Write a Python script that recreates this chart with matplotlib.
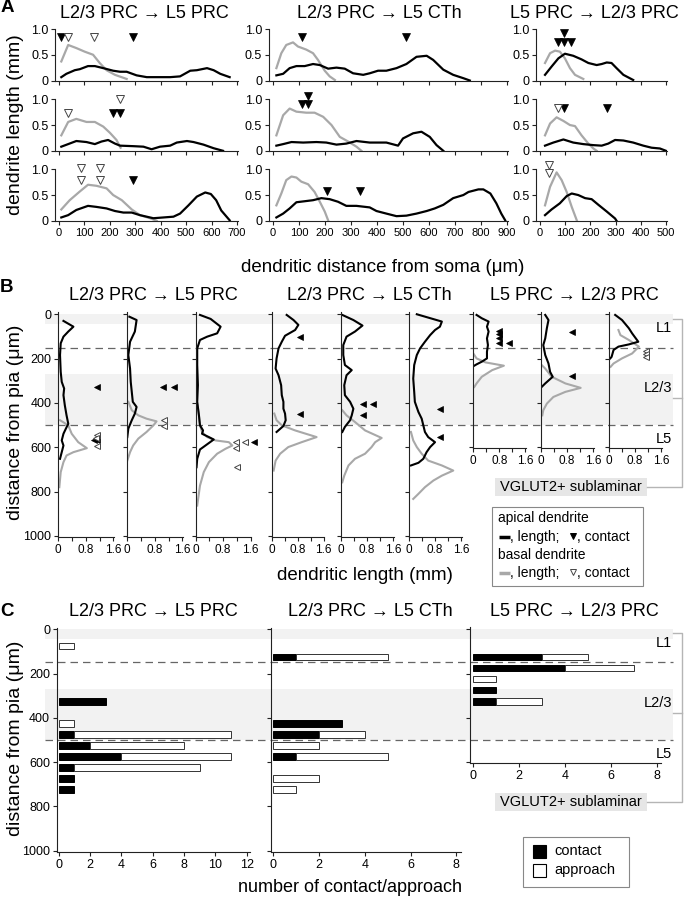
import numpy as np
import matplotlib
matplotlib.use("Agg")
import matplotlib.pyplot as plt
from matplotlib import transforms
from matplotlib.patches import Rectangle
from matplotlib.lines import Line2D

# ---------------------------------------------------------------------------
# Panel A: dendrite length (mm) vs dendritic distance from soma (um)
# PP = L2/3 PRC -> L5 PRC, PC = L2/3 PRC -> L5 CTh, LP = L5 PRC -> L2/3 PRC
# api = apical (black), bas = basal (gray), *_c = contact sites (distance, height)
# ---------------------------------------------------------------------------
A_PP1_api_x = [9, 29, 62, 82, 114, 141, 174, 213, 240, 266, 305, 345, 384, 437, 476, 516, 542, 582, 608, 634, 671]
A_PP1_api_y = [0.065, 0.13, 0.2, 0.22, 0.28, 0.28, 0.24, 0.19, 0.17, 0.17, 0.1, 0.065, 0.065, 0.065, 0.08, 0.19, 0.2, 0.24, 0.2, 0.13, 0.065]
A_PP1_bas_x = [9, 36, 68, 101, 134, 160, 187, 220, 266]
A_PP1_bas_y = [0.37, 0.69, 0.63, 0.56, 0.5, 0.34, 0.2, 0.11, 0.03]
A_PP1_api_c = [(9, 0.85), (292, 0.85)]
A_PP1_bas_c = [(36, 0.85), (138, 0.85)]

A_PP2_api_x = [9, 36, 68, 108, 141, 167, 193, 220, 240, 292, 332, 364, 397, 437, 463, 503, 529, 568, 608, 645]
A_PP2_api_y = [0.08, 0.13, 0.19, 0.17, 0.13, 0.18, 0.21, 0.14, 0.1, 0.09, 0.08, 0.03, 0.08, 0.1, 0.16, 0.19, 0.17, 0.12, 0.05, 0.0]
A_PP2_bas_x = [9, 36, 68, 108, 141, 174, 200, 226, 242]
A_PP2_bas_y = [0.3, 0.56, 0.62, 0.56, 0.56, 0.47, 0.35, 0.21, 0.06]
A_PP2_api_c = [(213, 0.73), (240, 0.73)]
A_PP2_bas_c = [(36, 0.73), (240, 1.0)]

A_PP3_api_x = [9, 36, 68, 114, 147, 187, 220, 253, 286, 318, 371, 411, 450, 476, 509, 542, 575, 597, 618, 638, 671]
A_PP3_api_y = [0.065, 0.11, 0.21, 0.29, 0.27, 0.24, 0.19, 0.16, 0.16, 0.11, 0.05, 0.065, 0.08, 0.14, 0.3, 0.47, 0.55, 0.52, 0.4, 0.2, 0.01]
A_PP3_bas_x = [9, 42, 82, 114, 147, 187, 213, 247, 286, 318, 358, 384]
A_PP3_bas_y = [0.22, 0.4, 0.57, 0.7, 0.68, 0.63, 0.5, 0.4, 0.22, 0.11, 0.05, 0.0]
A_PP3_api_c = [(292, 0.79)]
A_PP3_bas_c = [(88, 1.02), (88, 0.79), (160, 1.02), (160, 0.79)]

A_PC1_api_x = [13, 39, 64, 90, 122, 154, 180, 212, 244, 276, 308, 347, 372, 404, 436, 475, 513, 552, 591, 616, 655, 693, 732, 757]
A_PC1_api_y = [0.1, 0.13, 0.24, 0.28, 0.28, 0.32, 0.3, 0.23, 0.25, 0.23, 0.14, 0.11, 0.14, 0.19, 0.19, 0.24, 0.32, 0.46, 0.48, 0.4, 0.21, 0.11, 0.045, 0.0]
A_PC1_bas_x = [13, 32, 51, 77, 96, 128, 154, 173, 199, 218, 238]
A_PC1_bas_y = [0.24, 0.53, 0.69, 0.74, 0.66, 0.6, 0.53, 0.4, 0.19, 0.08, 0.01]
A_PC1_api_c = [(113, 0.85), (510, 0.85)]
A_PC1_bas_c = []

A_PC2_api_x = [13, 39, 71, 116, 167, 205, 244, 282, 321, 372, 436, 481, 500, 539, 571, 603, 629, 655]
A_PC2_api_y = [0.1, 0.13, 0.17, 0.16, 0.17, 0.16, 0.12, 0.14, 0.19, 0.16, 0.16, 0.1, 0.24, 0.34, 0.37, 0.27, 0.11, 0.0]
A_PC2_bas_x = [13, 39, 64, 90, 128, 160, 193, 225, 257, 289, 321, 340]
A_PC2_bas_y = [0.3, 0.69, 0.82, 0.76, 0.74, 0.74, 0.66, 0.5, 0.27, 0.18, 0.08, 0.0]
A_PC2_api_c = [(113, 0.9), (136, 0.9), (136, 1.07)]
A_PC2_bas_c = []

A_PC3_api_x = [13, 39, 64, 90, 122, 154, 186, 218, 250, 282, 321, 372, 398, 436, 475, 513, 552, 591, 622, 655, 693, 732, 752, 790, 809, 836, 859, 878, 893]
A_PC3_api_y = [0.065, 0.14, 0.24, 0.36, 0.38, 0.4, 0.44, 0.42, 0.37, 0.29, 0.29, 0.26, 0.19, 0.14, 0.09, 0.1, 0.14, 0.19, 0.24, 0.31, 0.44, 0.5, 0.56, 0.61, 0.61, 0.53, 0.34, 0.14, 0.01]
A_PC3_bas_x = [13, 32, 51, 71, 90, 109, 135, 160, 180, 199, 212]
A_PC3_bas_y = [0.3, 0.53, 0.79, 0.86, 0.84, 0.76, 0.71, 0.56, 0.37, 0.18, 0.01]
A_PC3_api_c = [(209, 0.58), (334, 0.58)]
A_PC3_bas_c = []

A_LP1_api_x = [20, 46, 73, 99, 132, 165, 192, 225, 245, 265, 284, 304, 331, 370]
A_LP1_api_y = [0.11, 0.27, 0.43, 0.52, 0.48, 0.41, 0.34, 0.3, 0.32, 0.35, 0.34, 0.24, 0.11, 0.01]
A_LP1_bas_x = [20, 40, 60, 79, 99, 119, 139, 172]
A_LP1_bas_y = [0.34, 0.53, 0.58, 0.56, 0.43, 0.24, 0.11, 0.03]
A_LP1_api_c = [(70, 0.74), (97, 0.74), (123, 0.74), (97, 0.92)]
A_LP1_bas_c = []

A_LP2_api_x = [20, 53, 93, 132, 172, 212, 245, 271, 298, 331, 370, 410, 443, 476, 500]
A_LP2_api_y = [0.1, 0.16, 0.22, 0.16, 0.13, 0.11, 0.1, 0.14, 0.21, 0.2, 0.16, 0.1, 0.06, 0.045, 0.0]
A_LP2_bas_x = [20, 40, 66, 93, 119, 139, 165, 192, 212, 225]
A_LP2_bas_y = [0.3, 0.53, 0.65, 0.58, 0.5, 0.48, 0.3, 0.14, 0.045, 0.0]
A_LP2_api_c = [(97, 0.84), (268, 0.84)]
A_LP2_bas_c = [(70, 0.84)]

A_LP3_api_x = [20, 46, 79, 106, 126, 152, 179, 205, 232, 265, 298, 304]
A_LP3_api_y = [0.11, 0.22, 0.34, 0.48, 0.53, 0.5, 0.44, 0.42, 0.31, 0.18, 0.045, 0.0]
A_LP3_bas_x = [20, 40, 66, 86, 106, 126, 146]
A_LP3_bas_y = [0.3, 0.66, 0.94, 0.79, 0.56, 0.27, 0.01]
A_LP3_api_c = []
A_LP3_bas_c = [(37, 1.08), (37, 0.92)]

# ---------------------------------------------------------------------------
# Panel B: dendritic length (mm) vs distance from pia (um), same nine cells
# *_d = depth (um), *_l = length (mm), *_c = contact sites (length, depth)
# ---------------------------------------------------------------------------
B_PP1_api_d = [30, 56, 78, 101, 131, 184, 260, 305, 335, 365, 411, 456, 494, 516, 539, 569, 592, 622, 652]
B_PP1_api_l = [0.15, 0.44, 0.29, 0.15, 0.07, 0.05, 0.07, 0.1, 0.17, 0.15, 0.19, 0.24, 0.29, 0.22, 0.15, 0.1, 0.15, 0.1, 0.05]
B_PP1_bas_d = [478, 501, 539, 577, 604, 622, 637, 667, 712, 780]
B_PP1_bas_l = [0.05, 0.29, 0.39, 0.58, 0.83, 0.44, 0.24, 0.15, 0.07, 0.03]
B_PP1_api_c = [(1.12, 328), (1.05, 569), (1.14, 569)]
B_PP1_bas_c = [(1.14, 544), (1.10, 556), (1.14, 594)]

B_PP2_api_d = [11, 26, 78, 124, 184, 245, 305, 350, 395, 418, 448, 478, 516, 554]
B_PP2_api_l = [0.06, 0.27, 0.22, 0.08, 0.03, 0.08, 0.1, 0.13, 0.16, 0.27, 0.22, 0.13, 0.03, 0.0]
B_PP2_bas_d = [395, 433, 456, 471, 483, 501, 531, 561, 592, 622, 660]
B_PP2_bas_l = [0.03, 0.13, 0.32, 0.56, 0.85, 0.76, 0.56, 0.32, 0.17, 0.08, 0.0]
B_PP2_api_c = [(1.05, 328), (1.36, 328)]
B_PP2_bas_c = [(1.07, 478), (1.07, 504)]

B_PP3_api_d = [3, 21, 56, 86, 101, 116, 154, 229, 320, 395, 456, 501, 524, 539, 554, 565, 592, 610, 652, 690]
B_PP3_api_l = [0.13, 0.44, 0.73, 0.63, 0.34, 0.13, 0.05, 0.05, 0.07, 0.05, 0.1, 0.13, 0.22, 0.19, 0.39, 0.53, 0.29, 0.13, 0.05, 0.03]
B_PP3_bas_d = [403, 456, 501, 531, 554, 569, 577, 592, 607, 629, 667, 712, 773, 863]
B_PP3_bas_l = [0.05, 0.1, 0.13, 0.19, 0.34, 0.58, 0.97, 1.07, 0.87, 0.63, 0.39, 0.24, 0.13, 0.05]
B_PP3_api_c = [(1.70, 577)]
B_PP3_bas_c = [(1.18, 577), (1.45, 577), (1.18, 604), (1.20, 687)]

B_PC1_api_d = [3, 26, 48, 71, 97, 124, 154, 199, 245, 275, 320, 365, 395, 426, 448, 478, 504, 531]
B_PC1_api_l = [0.46, 0.67, 0.82, 0.72, 0.41, 0.31, 0.21, 0.15, 0.12, 0.21, 0.29, 0.31, 0.36, 0.36, 0.41, 0.43, 0.36, 0.15]
B_PC1_bas_d = [448, 478, 501, 524, 554, 577, 599, 629, 660, 705]
B_PC1_bas_l = [0.08, 0.15, 0.31, 0.72, 1.38, 0.92, 0.51, 0.26, 0.12, 0.06]
B_PC1_api_c = [(0.87, 104), (0.87, 451)]
B_PC1_bas_c = []

B_PC2_api_d = [3, 26, 51, 78, 101, 139, 184, 229, 252, 275, 320, 365, 395, 426, 456, 478, 508, 531]
B_PC2_api_l = [0.04, 0.38, 0.66, 0.43, 0.17, 0.07, 0.07, 0.12, 0.33, 0.17, 0.1, 0.12, 0.28, 0.38, 0.33, 0.28, 0.12, 0.04]
B_PC2_bas_d = [433, 456, 486, 524, 558, 577, 599, 629, 652, 682, 728, 758]
B_PC2_bas_l = [0.04, 0.17, 0.43, 0.74, 1.25, 1.05, 0.94, 0.74, 0.43, 0.23, 0.1, 0.04]
B_PC2_api_c = [(0.69, 406), (0.97, 406), (0.69, 456)]
B_PC2_bas_c = []

B_PC3_api_d = [0, 15, 33, 56, 71, 94, 124, 154, 184, 229, 290, 350, 395, 441, 471, 501, 531, 554, 577, 599, 622, 652, 670, 682]
B_PC3_api_l = [0.24, 0.59, 1.01, 0.95, 0.8, 0.65, 0.49, 0.34, 0.24, 0.16, 0.13, 0.16, 0.18, 0.29, 0.39, 0.44, 0.49, 0.59, 0.8, 0.65, 0.54, 0.44, 0.29, 0.06]
B_PC3_bas_d = [531, 569, 599, 629, 660, 682, 705, 728, 750, 780, 810, 833]
B_PC3_bas_l = [0.06, 0.13, 0.24, 0.39, 0.59, 1.01, 1.36, 1.01, 0.75, 0.49, 0.29, 0.13]
B_PC3_api_c = [(0.95, 429), (0.95, 554)]
B_PC3_bas_c = []

B_LP1_api_d = [3, 18, 33, 56, 78, 109, 139, 169, 199, 214, 226, 232]
B_LP1_api_l = [0.1, 0.26, 0.47, 0.42, 0.47, 0.42, 0.45, 0.42, 0.42, 0.26, 0.1, 0.03]
B_LP1_bas_d = [177, 199, 217, 232, 252, 282, 312, 328]
B_LP1_bas_l = [0.0, 0.1, 0.37, 0.94, 0.58, 0.26, 0.1, 0.03]
B_LP1_api_c = [(0.78, 75), (0.78, 91), (0.78, 109), (0.78, 128), (1.1, 128)]
B_LP1_bas_c = []

B_LP2_api_d = [3, 26, 63, 109, 139, 184, 222, 260, 282, 312, 328]
B_LP2_api_l = [0.13, 0.23, 0.18, 0.13, 0.07, 0.13, 0.23, 0.28, 0.36, 0.13, 0.02]
B_LP2_bas_d = [229, 245, 282, 312, 332, 350, 373, 403, 433, 456]
B_LP2_bas_l = [0.02, 0.13, 0.33, 0.75, 1.22, 0.75, 0.38, 0.18, 0.07, 0.04]
B_LP2_api_c = [(0.94, 78), (0.94, 279)]
B_LP2_bas_c = []

B_LP3_api_d = [3, 26, 63, 86, 124, 136, 146, 161, 192, 199]
B_LP3_api_l = [0.19, 0.4, 0.61, 0.71, 0.9, 0.61, 0.29, 0.14, 0.08, 0.04]
B_LP3_bas_d = [71, 94, 116, 146, 177, 199, 222, 237]
B_LP3_bas_l = [0.29, 0.35, 0.61, 0.92, 0.71, 0.4, 0.14, 0.05]
B_LP3_api_c = []
B_LP3_bas_c = [(1.13, 165), (1.13, 180), (1.13, 195)]

# ---------------------------------------------------------------------------
# Panel C: number of contacts / approaches per 50-um depth bin
# ---------------------------------------------------------------------------
C_PP_depth = [75, 325, 425, 475, 525, 575, 625, 675, 725]
C_PP_contact = [0, 3, 0, 1, 2, 4, 1, 1, 1]
C_PP_approach = [1, 0, 1, 10, 6, 7, 8, 0, 0]

C_PC_depth = [125, 425, 475, 525, 575, 675, 725]
C_PC_contact = [1, 3, 2, 0, 1, 0, 0]
C_PC_approach = [4, 0, 2, 2, 4, 2, 1]

C_LP_depth = [125, 175, 225, 275, 325]
C_LP_contact = [3, 4, 0, 1, 1]
C_LP_approach = [2, 3, 1, 0, 2]

# cortical layout (um from pia)
SHADED_UM = [(0, 42), (270, 500)]
BOUNDARY_UM = [150, 500]
LAYER_LABELS = ["L1", "L2/3", "L5"]
LAYER_LABEL_UM = [63, 334, 562]

TITLES = ["L2/3 PRC \u2192 L5 PRC", "L2/3 PRC \u2192 L5 CTh", "L5 PRC \u2192 L2/3 PRC"]

# ---------------------------------------------------------------------------
W, H = 685, 899
plt.rcParams["font.family"] = ["Liberation Sans", "DejaVu Sans"]
fig = plt.figure(figsize=(W / 100, H / 100), dpi=100)
PX = transforms.Affine2D().scale(1 / W, -1 / H).translate(0, 1) + fig.transFigure
GRAY = "#a8a8a8"
BAND = "#f2f2f2"
DASH = "#666666"
INK = "#222222"


def px_rect(l, t, w, h):
    return [l / W, 1 - (t + h) / H, w / W, h / H]


def style(ax):
    for s in ("top", "right"):
        ax.spines[s].set_visible(False)
    for s in ("left", "bottom"):
        ax.spines[s].set_linewidth(0.8)
        ax.spines[s].set_color(INK)
    ax.set_facecolor("none")
    ax.tick_params(which="both", direction="out", length=3, width=0.8, color=INK, pad=2, labelsize=9)


def marks(ax, pts, marker, filled, size):
    if not pts:
        return
    xs, ys = zip(*pts)
    if filled:
        ax.plot(xs, ys, ls="none", marker=marker, ms=size, mfc="black", mec="black", mew=0.5, clip_on=False, zorder=5)
    else:
        ax.plot(xs, ys, ls="none", marker=marker, ms=size, mfc="white", mec="#444444", mew=0.7, clip_on=False, zorder=5)


def layer_guides(ax_ref):
    tr = transforms.blended_transform_factory(fig.transFigure, ax_ref.transData)
    x0, x1 = 45 / W, 673 / W
    for d0, d1 in SHADED_UM:
        fig.add_artist(Rectangle((x0, d0), x1 - x0, d1 - d0, transform=tr,
                                 facecolor=BAND, edgecolor="none", zorder=-3))
    for d in BOUNDARY_UM:
        fig.add_artist(Line2D([x0, x1], [d, d], transform=tr, color=DASH, lw=0.9,
                              ls=(0, (6, 4)), zorder=-2))
    for lab, d in zip(LAYER_LABELS, LAYER_LABEL_UM):
        fig.text(672 / W, d, lab, transform=tr, ha="right", va="center", fontsize=10.5)


# ---------------- panel A ----------------
a_cells = [
    [(A_PP1_api_x, A_PP1_api_y, A_PP1_bas_x, A_PP1_bas_y, A_PP1_api_c, A_PP1_bas_c),
     (A_PP2_api_x, A_PP2_api_y, A_PP2_bas_x, A_PP2_bas_y, A_PP2_api_c, A_PP2_bas_c),
     (A_PP3_api_x, A_PP3_api_y, A_PP3_bas_x, A_PP3_bas_y, A_PP3_api_c, A_PP3_bas_c)],
    [(A_PC1_api_x, A_PC1_api_y, A_PC1_bas_x, A_PC1_bas_y, A_PC1_api_c, A_PC1_bas_c),
     (A_PC2_api_x, A_PC2_api_y, A_PC2_bas_x, A_PC2_bas_y, A_PC2_api_c, A_PC2_bas_c),
     (A_PC3_api_x, A_PC3_api_y, A_PC3_bas_x, A_PC3_bas_y, A_PC3_api_c, A_PC3_bas_c)],
    [(A_LP1_api_x, A_LP1_api_y, A_LP1_bas_x, A_LP1_bas_y, A_LP1_api_c, A_LP1_bas_c),
     (A_LP2_api_x, A_LP2_api_y, A_LP2_bas_x, A_LP2_bas_y, A_LP2_api_c, A_LP2_bas_c),
     (A_LP3_api_x, A_LP3_api_y, A_LP3_bas_x, A_LP3_bas_y, A_LP3_api_c, A_LP3_bas_c)],
]
a_cols = [(55.2, 183.1, (-15, 705), 700), (269.1, 239.2, (-15, 905), 900), (536.2, 131.0, (-15, 505), 500)]
a_rows = [29.0, 99.3, 169.3]
for ci, (left, width, xlim, xmax) in enumerate(a_cols):
    for ri, top in enumerate(a_rows):
        ax = fig.add_axes(px_rect(left, top, width, 51.5))
        style(ax)
        ax_, ay_, bx_, by_, ac_, bc_ = a_cells[ci][ri]
        ax.plot(bx_, by_, color=GRAY, lw=1.6, solid_joinstyle="round")
        ax.plot(ax_, ay_, color="black", lw=1.6, solid_joinstyle="round")
        marks(ax, ac_, "v", True, 5.5)
        marks(ax, bc_, "v", False, 5.5)
        ax.set_xlim(*xlim)
        ax.set_ylim(0, 1.0)
        ax.set_xticks(np.arange(0, xmax + 1, 100))
        ax.set_yticks([0, 0.5, 1.0])
        ax.set_yticklabels(["0", "0.5", "1.0"])
        if ri < 2:
            ax.set_xticklabels([])
        else:
            ax.tick_params(axis="x", labelsize=8)

# ---------------- panel B ----------------
b_cells = [
    (B_PP1_api_d, B_PP1_api_l, B_PP1_bas_d, B_PP1_bas_l, B_PP1_api_c, B_PP1_bas_c),
    (B_PP2_api_d, B_PP2_api_l, B_PP2_bas_d, B_PP2_bas_l, B_PP2_api_c, B_PP2_bas_c),
    (B_PP3_api_d, B_PP3_api_l, B_PP3_bas_d, B_PP3_bas_l, B_PP3_api_c, B_PP3_bas_c),
    (B_PC1_api_d, B_PC1_api_l, B_PC1_bas_d, B_PC1_bas_l, B_PC1_api_c, B_PC1_bas_c),
    (B_PC2_api_d, B_PC2_api_l, B_PC2_bas_d, B_PC2_bas_l, B_PC2_api_c, B_PC2_bas_c),
    (B_PC3_api_d, B_PC3_api_l, B_PC3_bas_d, B_PC3_bas_l, B_PC3_api_c, B_PC3_bas_c),
    (B_LP1_api_d, B_LP1_api_l, B_LP1_bas_d, B_LP1_bas_l, B_LP1_api_c, B_LP1_bas_c),
    (B_LP2_api_d, B_LP2_api_l, B_LP2_bas_d, B_LP2_bas_l, B_LP2_api_c, B_LP2_bas_c),
    (B_LP3_api_d, B_LP3_api_l, B_LP3_bas_d, B_LP3_bas_l, B_LP3_api_c, B_LP3_bas_c),
]
b_lefts = [58.3, 127.3, 195.5, 271.7, 341.0, 409.0, 473.3, 541.0, 609.0]
b_widths = [55.7] * 3 + [52.7] * 6
b_pxum, b_top, b_pad = 0.2217, 311.6, 12
b_axes = []
for i, cell in enumerate(b_cells):
    dmax = 600 if i >= 6 else 1000
    ax = fig.add_axes(px_rect(b_lefts[i], b_top, b_widths[i], (dmax + 5 + b_pad) * b_pxum))
    style(ax)
    ad, al, bd, bl, ac_, bc_ = cell
    ax.plot(bl, bd, color=GRAY, lw=1.5, solid_joinstyle="round")
    ax.plot(al, ad, color="black", lw=1.5, solid_joinstyle="round")
    marks(ax, ac_, "<", True, 5)
    marks(ax, bc_, "<", False, 5)
    ax.set_xlim(0, 1.62)
    ax.set_ylim(dmax + 5, -b_pad)
    ax.set_xticks([0, 0.8, 1.6])
    ax.set_xticklabels(["0", "0.8", "1.6"])
    ax.set_xticks([0.4, 1.2], minor=True)
    ax.tick_params(axis="x", labelsize=8.5)
    ax.set_yticks(np.arange(0, dmax + 1, 200))
    if i > 0:
        ax.set_yticklabels([])
    b_axes.append(ax)
layer_guides(b_axes[0])

# ---------------- panel C ----------------
c_sets = [(C_PP_depth, C_PP_contact, C_PP_approach),
          (C_PC_depth, C_PC_contact, C_PC_approach),
          (C_LP_depth, C_LP_contact, C_LP_approach)]
c_cols = [(57.1, 192.7, (-0.1, 12.2), 12, 1000),
          (271.0, 190.0, (-0.1, 8.2), 8, 1000),
          (470.4, 190.9, (-0.1, 8.2), 8, 600)]
c_pxum, c_top, c_pad = 0.2213, 627.5, 8
c_axes = []
for i, ((dep, con, app), (left, width, xlim, xmax, dmax)) in enumerate(zip(c_sets, c_cols)):
    ax = fig.add_axes(px_rect(left, c_top, width, (dmax + 5 + c_pad) * c_pxum))
    style(ax)
    dep, con, app = np.array(dep), np.array(con), np.array(app)
    k = con > 0
    ax.barh(dep[k], con[k], height=30, color="black", edgecolor="black", lw=0.7)
    k = app > 0
    ax.barh(dep[k], app[k], left=con[k], height=30, color="white", edgecolor="#333333", lw=0.7)
    ax.set_xlim(*xlim)
    ax.set_ylim(dmax + 5, -c_pad)
    ax.set_xticks(np.arange(0, xmax + 1, 2))
    ax.set_yticks(np.arange(0, dmax + 1, 200))
    if i > 0:
        ax.set_yticklabels([])
    c_axes.append(ax)
layer_guides(c_axes[0])

# ---------------- text and annotations ----------------
for lab, y in (("A", 8), ("B", 287), ("C", 611)):
    fig.text(7, y, lab, transform=PX, ha="center", va="center", fontsize=13.5, fontweight="bold")
for xs, y in (((144, 379, 594), 13), ((153, 369, 574), 295), ((153, 370, 574), 612)):
    for x, t in zip(xs, TITLES):
        fig.text(x, y, t, transform=PX, ha="center", va="center", fontsize=13)

fig.text(16, 125, "dendrite length (mm)", transform=PX, rotation=90, ha="center", va="center", fontsize=14)
fig.text(16, 422, "distance from pia (\u03bcm)", transform=PX, rotation=90, ha="center", va="center", fontsize=14)
fig.text(16, 738, "distance from pia (\u03bcm)", transform=PX, rotation=90, ha="center", va="center", fontsize=14)
fig.text(383, 268, "dendritic distance from soma (\u03bcm)", transform=PX, ha="center", va="center", fontsize=13.5)
fig.text(365, 576, "dendritic length (mm)", transform=PX, ha="center", va="center", fontsize=13.5)
fig.text(350, 887, "number of contact/approach", transform=PX, ha="center", va="center", fontsize=13)

# VGLUT2+ sublaminar tags and brackets
for box_top, y_top, y_tick in ((478, 319, 398), (793, 633, 713)):
    fig.add_artist(Rectangle((495, box_top), 152, 18, transform=PX, facecolor="#e6e6e6", edgecolor="none"))
    fig.text(571, box_top + 9, "VGLUT2+ sublaminar", transform=PX, ha="center", va="center", fontsize=10.5)
    y_bot = box_top + 9
    fig.add_artist(Line2D([673, 682, 682, 647], [y_top, y_top, y_bot, y_bot], transform=PX, color="#b5b5b5", lw=1))
    fig.add_artist(Line2D([673, 682], [y_tick, y_tick], transform=PX, color="#b5b5b5", lw=1))

# legend, panel B
fig.add_artist(Rectangle((492, 507), 151, 79, transform=PX, facecolor="white", edgecolor="#888888", lw=0.8))
fig.text(498, 518, "apical dendrite", transform=PX, ha="left", va="center", fontsize=10)
fig.text(498, 555, "basal dendrite", transform=PX, ha="left", va="center", fontsize=10)
for y, col, filled in ((537, "black", True), (573, GRAY, False)):
    fig.add_artist(Line2D([499, 510], [y, y], transform=PX, color=col, lw=2.5, solid_capstyle="butt"))
    fig.text(510, y, ", length;", transform=PX, ha="left", va="center", fontsize=10)
    fig.add_artist(Line2D([573], [y - 1], transform=PX, ls="none", marker="v", ms=5,
                          mfc="black" if filled else "white", mec="black" if filled else "#444444", mew=0.7))
    fig.text(577, y, ", contact", transform=PX, ha="left", va="center", fontsize=10)

# legend, panel C
fig.add_artist(Rectangle((523, 837), 106, 50, transform=PX, facecolor="white", edgecolor="#888888", lw=0.8))
fig.add_artist(Rectangle((533, 845), 13, 13, transform=PX, facecolor="black", edgecolor="black", lw=0.8))
fig.add_artist(Rectangle((533, 864), 13, 13, transform=PX, facecolor="white", edgecolor="black", lw=0.8))
fig.text(554, 851, "contact", transform=PX, ha="left", va="center", fontsize=10.5)
fig.text(554, 870, "approach", transform=PX, ha="left", va="center", fontsize=10.5)

fig.savefig("out.png", dpi=100)
